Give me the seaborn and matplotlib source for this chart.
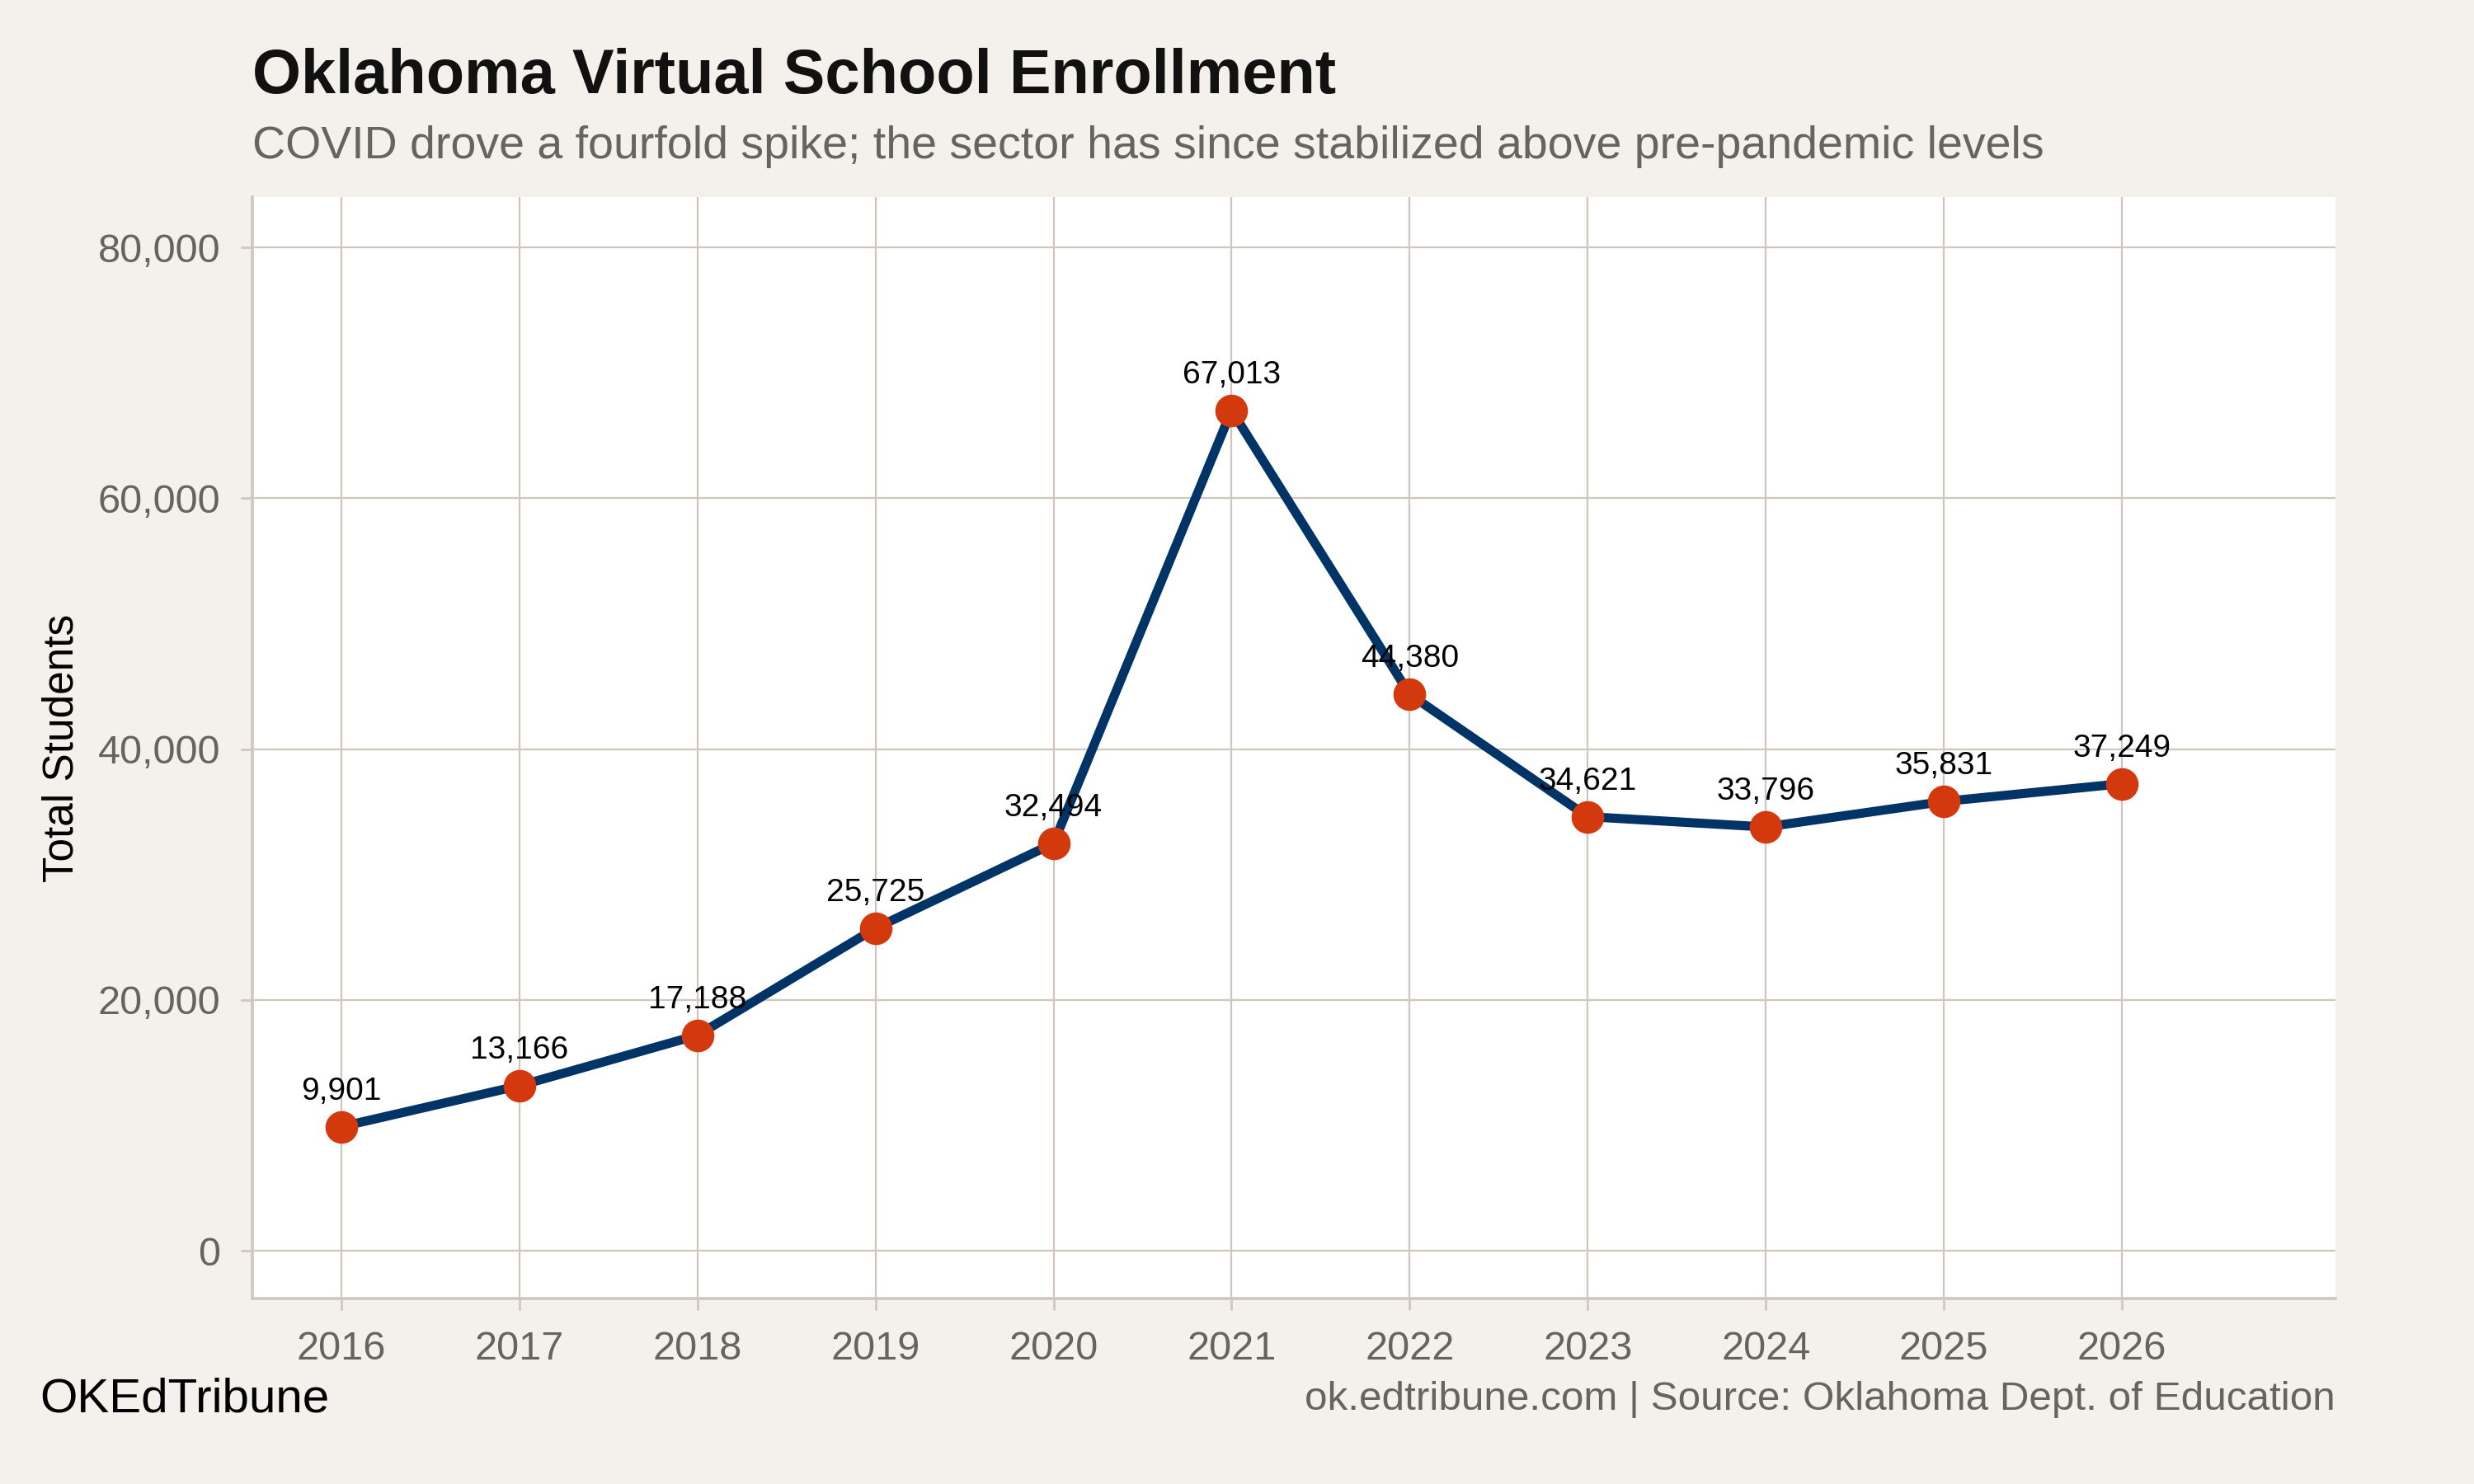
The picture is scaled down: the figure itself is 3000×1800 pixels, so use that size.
import pandas as pd
import seaborn as sns
import matplotlib.pyplot as plt
from matplotlib.ticker import FuncFormatter

years = [2016, 2017, 2018, 2019, 2020, 2021, 2022, 2023, 2024, 2025, 2026]
students = [9901, 13166, 17188, 25725, 32494, 67013, 44380, 34621, 33796, 35831, 37249]

df = pd.DataFrame({'year': years, 'students': students})

bg = '#f4f1ec'
grid = '#cdc7bd'
gray = '#67635d'
sns.set_theme(style="whitegrid", rc={
    'axes.facecolor': 'white',
    'figure.facecolor': bg,
    'grid.color': grid,
    'grid.linewidth': 0.8,
    'axes.edgecolor': grid,
    'axes.linewidth': 1.3,
})
plt.rcParams['font.family'] = ['Liberation Sans', 'DejaVu Sans']

fig, ax = plt.subplots(figsize=(15, 9), dpi=200)
fig.subplots_adjust(left=0.102, right=0.944, top=0.867, bottom=0.125)

sns.lineplot(data=df, x='year', y='students', ax=ax, color='#003366', linewidth=4,
             marker='o', markersize=13.5, markerfacecolor='#d4380d', markeredgecolor='#d4380d')

# value labels above each point
for x, y in zip(years, students):
    ax.annotate(f"{y:,}", (x, y), xytext=(0, 9), textcoords='offset points',
                ha='center', va='bottom', fontsize=14, color='black')

ax.set_xlim(2015.5, 2027.2)
ax.set_ylim(-3800, 84000)
ax.set_xticks(years)
ax.set_yticks([0, 20000, 40000, 60000, 80000])
ax.yaxis.set_major_formatter(FuncFormatter(lambda v, p: f"{int(v):,}"))
ax.tick_params(axis='both', which='major', labelsize=17.5, labelcolor=gray,
               length=5, width=1, color=grid, bottom=True, left=True, pad=9)

for side in ['top', 'right']:
    ax.spines[side].set_visible(False)

ax.set_xlabel('')
ax.set_ylabel('Total Students', fontsize=18.5, color='black', labelpad=7)

fig.text(0.102, 0.948, 'Oklahoma Virtual School Enrollment', fontsize=27.3, fontweight='bold',
         color='#111111', ha='left', va='center')
fig.text(0.102, 0.901, 'COVID drove a fourfold spike; the sector has since stabilized above pre-pandemic levels',
         fontsize=20, color=gray, ha='left', va='center')

fig.text(0.016, 0.057, 'OKEdTribune', fontsize=21, color='black', ha='left', va='center')
fig.text(0.944, 0.057, 'ok.edtribune.com | Source: Oklahoma Dept. of Education', fontsize=17.8,
         color=gray, ha='right', va='center')

plt.savefig('out.png', dpi=200, facecolor=bg)
